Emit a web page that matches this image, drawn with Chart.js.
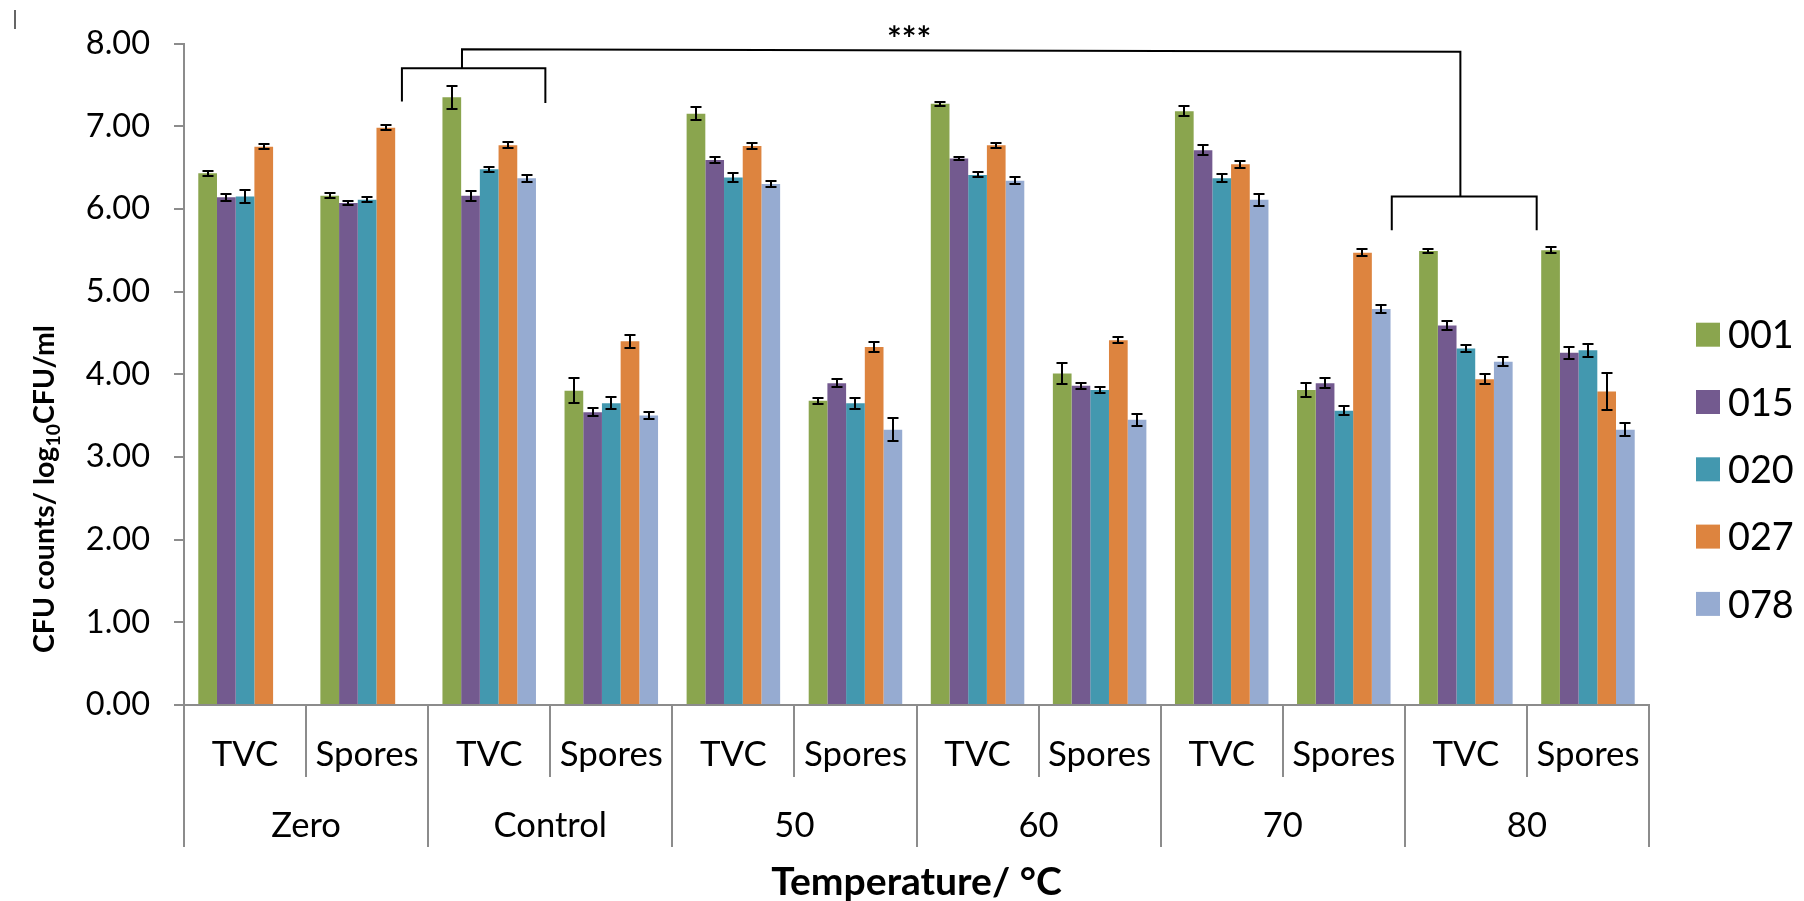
<!DOCTYPE html>
<html>
<head>
<meta charset="utf-8">
<script src="https://cdn.jsdelivr.net/npm/chart.js"></script>
<style>
    html, body { margin: 0; padding: 0; background: #fff; }
</style>
</head>
<body>
<canvas id="chart" width="1804" height="901"></canvas>

<script>
    // sub categories (x ticks) and the temperature groups under them
    var subLabels = ['TVC', 'Spores', 'TVC', 'Spores', 'TVC', 'Spores', 'TVC', 'Spores', 'TVC', 'Spores', 'TVC', 'Spores'];
    var groupLabels = ['Zero', 'Control', '50', '60', '70', '80'];
    var yTicks = [0, 1, 2, 3, 4, 5, 6, 7, 8];

    var seriesNames = ['001', '015', '020', '027', '078'];
    var seriesColors = ['#8aa54e', '#735a8f', '#4398af', '#dd843f', '#96abd1'];

    // mean CFU counts (log10 CFU/ml)
    var s001 = [6.43, 6.16, 7.35, 3.80, 7.15, 3.68, 7.27, 4.01, 7.18, 3.81, 5.49, 5.50];
    var s015 = [6.14, 6.07, 6.16, 3.54, 6.59, 3.89, 6.61, 3.86, 6.71, 3.89, 4.59, 4.26];
    var s020 = [6.15, 6.11, 6.48, 3.65, 6.38, 3.65, 6.41, 3.81, 6.37, 3.56, 4.31, 4.29];
    var s027 = [6.75, 6.98, 6.77, 4.40, 6.76, 4.33, 6.77, 4.41, 6.54, 5.47, 3.94, 3.79];
    var s078 = [null, null, 6.37, 3.50, 6.30, 3.33, 6.34, 3.45, 6.11, 4.79, 4.15, 3.33];

    // error bar half lengths
    var e001 = [0.03, 0.03, 0.14, 0.15, 0.08, 0.035, 0.02, 0.125, 0.06, 0.085, 0.025, 0.035];
    var e015 = [0.04, 0.025, 0.06, 0.05, 0.04, 0.05, 0.015, 0.035, 0.06, 0.06, 0.05, 0.07];
    var e020 = [0.08, 0.03, 0.03, 0.075, 0.055, 0.065, 0.03, 0.035, 0.05, 0.05, 0.04, 0.08];
    var e027 = [0.03, 0.03, 0.035, 0.08, 0.035, 0.06, 0.03, 0.035, 0.045, 0.04, 0.06, 0.22];
    var e078 = [0, 0, 0.04, 0.045, 0.035, 0.14, 0.04, 0.07, 0.07, 0.045, 0.055, 0.08];

    var seriesData = [s001, s015, s020, s027, s078];
    var seriesErr = [e001, e015, e020, e027, e078];

    // significance brackets, points as [category index, value]
    var brackets = [
        [[1.285, 7.30], [1.285, 7.70], [2.46, 7.70], [2.46, 7.28]],
        [[1.777, 7.70], [1.777, 7.93], [9.955, 7.90], [9.955, 6.15]],
        [[9.393, 5.74], [9.393, 6.15], [10.58, 6.15], [10.58, 5.74]]
    ];
    var starsAt = [5.44, 8.22];   // centre x (category index), top of the glyphs (value)

    var FONT = 'Lato';
    var GREY = '#8c8c8c';

    // pick a font size so the ink width of a text matches the original
    var meas = document.createElement('canvas').getContext('2d');
    function fitSize(text, weight, ink) {
        meas.font = weight + ' 100px ' + FONT;
        var m = meas.measureText(text);
        return Math.round(1000 * ink / (m.actualBoundingBoxRight + m.actualBoundingBoxLeft)) / 10;
    }
    var yTickSize = fitSize('4.00', 'normal', 63);
    var xTickSize = fitSize('Spores', 'normal', 101);
    var groupSize = fitSize('Control', 'normal', 110);
    var xTitleSize = fitSize('Temperature/ °C', 'bold', 290);
    var legendSize = fitSize('001', 'normal', 62);

    var datasets = [];
    for (var i = 0; i < seriesNames.length; i++) {
        datasets.push({
            label: seriesNames[i],
            data: seriesData[i],
            backgroundColor: seriesColors[i],
            categoryPercentage: 0.766,
            barPercentage: 1.0
        });
    }

    var extras = {
        id: 'extras',
        afterDatasetsDraw: function (chart) {
            var c = chart.ctx, y = chart.scales.y;
            c.save();
            c.strokeStyle = '#000';
            c.lineWidth = 2;
            chart.data.datasets.forEach(function (ds, i) {
                var meta = chart.getDatasetMeta(i);
                meta.data.forEach(function (bar, j) {
                    var v = ds.data[j], e = seriesErr[i][j];
                    if (v == null || !e) return;
                    var yt = Math.round(y.getPixelForValue(v + e)), yb = Math.round(y.getPixelForValue(v - e));
                    var bx = Math.round(bar.x);
                    c.beginPath();
                    c.moveTo(bx, yt); c.lineTo(bx, yb);
                    c.moveTo(bx - 5.5, yt); c.lineTo(bx + 5.5, yt);
                    c.moveTo(bx - 5.5, yb); c.lineTo(bx + 5.5, yb);
                    c.stroke();
                });
            });
            c.restore();
        },
        afterDraw: function (chart) {
            var c = chart.ctx, x = chart.scales.x, y = chart.scales.y;
            var x0 = x.getPixelForValue(0), step = x.getPixelForValue(1) - x0;
            function px(idx) { return x0 + idx * step; }

            c.save();
            // brackets
            c.strokeStyle = '#000';
            c.lineWidth = 2;
            brackets.forEach(function (pts) {
                c.beginPath();
                pts.forEach(function (p, k) {
                    var X = px(p[0]), Y = y.getPixelForValue(p[1]);
                    if (k === 0) c.moveTo(X, Y); else c.lineTo(X, Y);
                });
                c.stroke();
            });
            c.fillStyle = '#000';
            c.font = 'bold ' + fitSize('***', 'bold', 41) + 'px ' + FONT;
            c.textAlign = 'center';
            c.textBaseline = 'alphabetic';
            var sm = c.measureText('***');
            c.fillText('***', px(starsAt[0]), y.getPixelForValue(starsAt[1]) + sm.actualBoundingBoxAscent);

            // legend
            c.font = legendSize + 'px ' + FONT;
            c.textAlign = 'left';
            c.textBaseline = 'middle';
            for (var i = 0; i < seriesNames.length; i++) {
                var cy = 334.7 + i * 67.3;
                c.fillStyle = seriesColors[i];
                c.fillRect(1696, cy - 12, 24, 24);
                c.fillStyle = '#000';
                c.fillText(seriesNames[i], 1728, cy + 1.5);
            }

            // y title with subscript, scaled to the original length
            var main1 = 'CFU counts/ log', sub = '10', main2 = 'CFU/ml';
            c.font = 'bold 100px ' + FONT;
            var r1 = c.measureText(main1).width, r3 = c.measureText(main2).width;
            c.font = 'bold 68px ' + FONT;
            var r2 = c.measureText(sub).width;
            var sz = 100 * 328 / (r1 + r2 + r3);
            var w1 = r1 * sz / 100, w2 = r2 * sz / 100, w3 = r3 * sz / 100, total = w1 + w2 + w3;
            c.translate(53.5, 489);
            c.rotate(-Math.PI / 2);
            c.textAlign = 'left';
            c.textBaseline = 'alphabetic';
            c.font = 'bold ' + sz + 'px ' + FONT; c.fillText(main1, -total / 2, 0);
            c.font = 'bold ' + (sz * 0.68) + 'px ' + FONT; c.fillText(sub, -total / 2 + w1, sz * 0.24);
            c.font = 'bold ' + sz + 'px ' + FONT; c.fillText(main2, -total / 2 + w1 + w2, 0);
            c.restore();

            // small stray mark at the top left of the original figure
            c.save();
            c.strokeStyle = '#333';
            c.lineWidth = 1.5;
            c.beginPath(); c.moveTo(15, 10); c.lineTo(15, 29); c.stroke();
            c.restore();
        }
    };

    new Chart(document.getElementById('chart').getContext('2d'), {
        type: 'bar',
        data: { labels: subLabels, datasets: datasets },
        options: {
            responsive: false,
            animation: false,
            layout: { padding: { top: 38, right: 155, bottom: 0, left: 0 } },
            plugins: { legend: { display: false }, tooltip: { enabled: false } },
            scales: {
                y: {
                    min: 0, max: 8,
                    afterBuildTicks: function (s) { s.ticks = yTicks.map(function (v) { return { value: v }; }); },
                    ticks: {
                        callback: function (v) { return Number(v).toFixed(2); },
                        font: { family: FONT, size: yTickSize }, color: '#000', padding: 24
                    },
                    grid: { drawOnChartArea: false, tickLength: 10, color: GREY, lineWidth: 2 },
                    border: { color: GREY, width: 2 },
                    afterFit: function (s) { s.width = 184; }
                },
                x: {
                    weight: 0,
                    grid: { drawOnChartArea: false, tickLength: 72, color: GREY, lineWidth: 2, offset: true },
                    border: { color: GREY, width: 2 },
                    ticks: {
                        font: { family: FONT, size: xTickSize }, color: '#000',
                        padding: 755 - 705 - 72 - xTickSize * 0.6, maxRotation: 0, autoSkip: false
                    },
                    afterFit: function (s) { s.height = 72; }
                },
                x2: {
                    type: 'category',
                    labels: groupLabels,
                    position: 'bottom',
                    weight: 1,
                    offset: true,
                    grid: { drawOnChartArea: false, tickLength: 70, color: GREY, lineWidth: 2, offset: true },
                    border: { display: false },
                    ticks: {
                        font: { family: FONT, size: groupSize }, color: '#000',
                        padding: 826 - 777 - 70 - groupSize * 0.6, maxRotation: 0, autoSkip: false
                    },
                    title: {
                        display: true, text: 'Temperature/ °C', color: '#000',
                        font: { family: FONT, size: xTitleSize, weight: 'bold', lineHeight: 1 },
                        padding: { top: 0, bottom: 901 - 882 - xTitleSize * 0.5 }
                    },
                    afterFit: function (s) { s.height = 124; }
                }
            }
        },
        plugins: [extras]
    });
</script>
</body>
</html>
